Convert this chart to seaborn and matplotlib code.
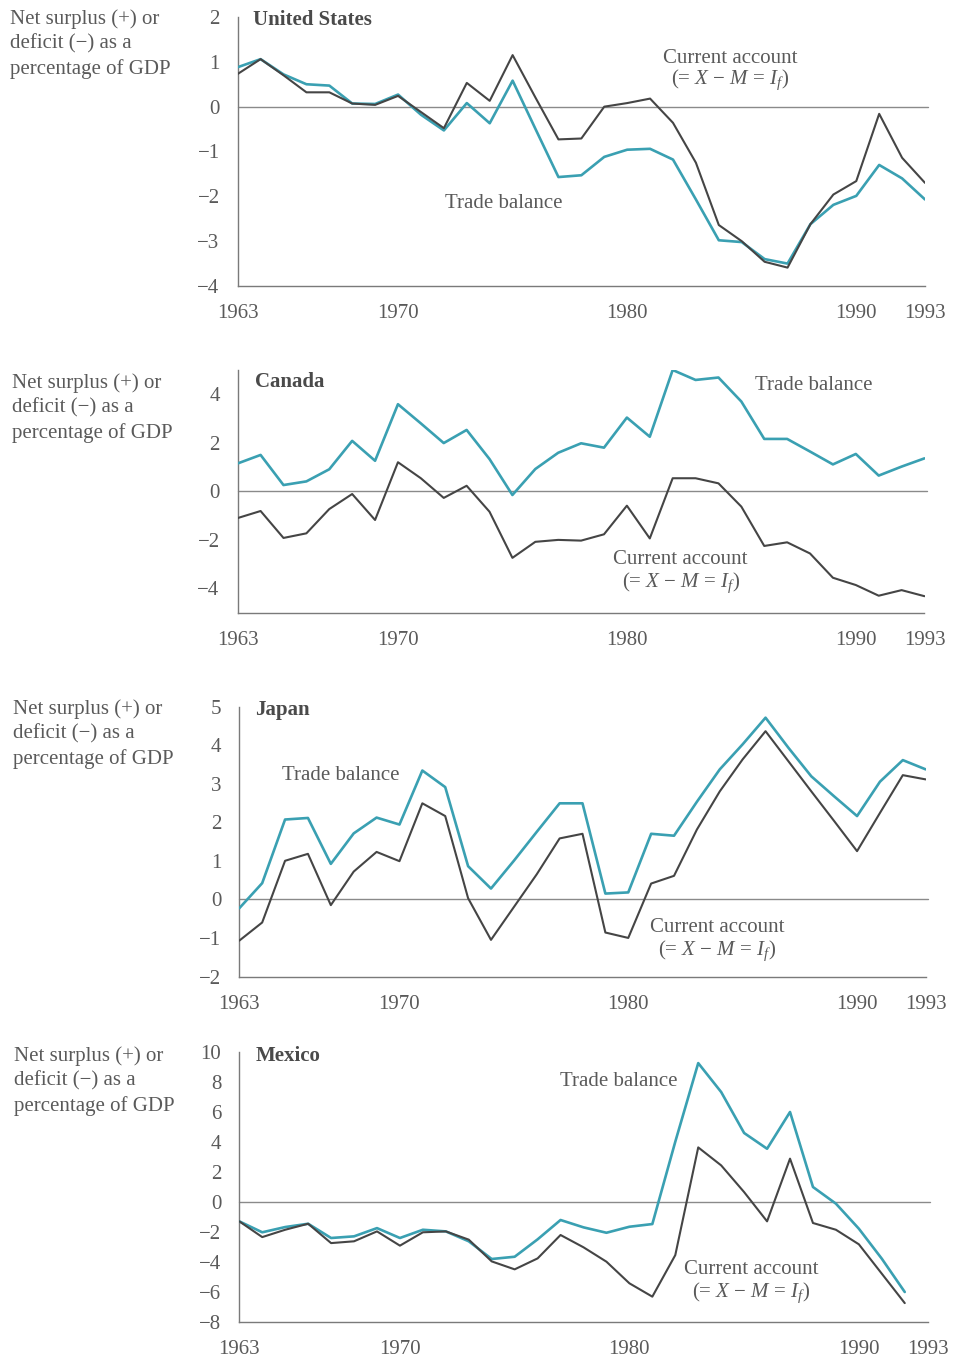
import numpy as np
import pandas as pd
import matplotlib
matplotlib.use("Agg")
import matplotlib.pyplot as plt
import seaborn as sns

# ---------------- data ----------------
years = list(range(1963, 1994))

us_current = [0.73, 1.06, 0.70, 0.32, 0.32, 0.07, 0.04, 0.24, -0.12, -0.48,
              0.53, 0.13, 1.15, 0.20, -0.73, -0.71, 0.00, 0.08, 0.18, -0.36,
              -1.25, -2.64, -3.00, -3.46, -3.59, -2.62, -1.96, -1.66, -0.16, -1.14, -1.70]
us_trade = [0.88, 1.06, 0.72, 0.50, 0.47, 0.07, 0.06, 0.27, -0.18, -0.53,
            0.08, -0.37, 0.58, -0.50, -1.57, -1.53, -1.12, -0.96, -0.94, -1.18,
            -2.07, -2.98, -3.02, -3.40, -3.50, -2.62, -2.19, -1.99, -1.30, -1.60, -2.07]

ca_current = [-1.10, -0.81, -1.92, -1.73, -0.73, -0.11, -1.18, 1.20, 0.54, -0.27,
              0.23, -0.84, -2.74, -2.08, -2.00, -2.03, -1.77, -0.59, -1.94, 0.54,
              0.54, 0.33, -0.63, -2.25, -2.10, -2.56, -3.56, -3.86, -4.30, -4.07, -4.32]
ca_trade = [1.15, 1.50, 0.26, 0.41, 0.91, 2.08, 1.26, 3.59, 2.80, 1.99,
            2.53, 1.33, -0.15, 0.92, 1.59, 1.98, 1.80, 3.04, 2.25, 5.00,
            4.59, 4.69, 3.70, 2.16, 2.16, 1.64, 1.11, 1.54, 0.65, 1.02, 1.36]

jp_current = [-1.07, -0.60, 1.00, 1.18, -0.15, 0.72, 1.23, 0.99, 2.49, 2.16,
              0.03, -1.05, -0.20, 0.65, 1.58, 1.70, -0.86, -1.00, 0.41, 0.61,
              1.81, 2.80, 3.63, 4.36, 3.58, 2.80, 2.03, 1.25, 2.24, 3.22, 3.11]
jp_trade = [-0.23, 0.42, 2.07, 2.11, 0.92, 1.71, 2.12, 1.94, 3.34, 2.91,
            0.86, 0.28, 1.00, 1.75, 2.49, 2.49, 0.15, 0.18, 1.70, 1.65,
            2.53, 3.37, 4.02, 4.71, 3.93, 3.19, 2.67, 2.16, 3.05, 3.61, 3.37]

mx_current = [-1.31, -2.36, -1.87, -1.47, -2.76, -2.64, -1.98, -2.93, -2.04, -1.98,
              -2.53, -3.98, -4.51, -3.78, -2.22, -3.04, -4.00, -5.44, -6.33, -3.56,
              3.62, 2.42, 0.64, -1.31, 2.87, -1.42, -1.87, -2.84, -4.80, -6.76, np.nan]
mx_trade = [-1.31, -2.04, -1.69, -1.47, -2.42, -2.31, -1.76, -2.42, -1.87, -1.98,
            -2.64, -3.82, -3.67, -2.51, -1.22, -1.71, -2.07, -1.67, -1.49, 4.00,
            9.24, 7.31, 4.58, 3.53, 5.98, 0.98, -0.13, -1.80, -3.80, -6.02, np.nan]

countries = ["United States", "Canada", "Japan", "Mexico"]
current_series = [us_current, ca_current, jp_current, mx_current]
trade_series = [us_trade, ca_trade, jp_trade, mx_trade]

xtick_vals = [1963, 1965, 1970, 1980, 1990, 1993]
xtick_labels = ["1963", "", "1970", "1980", "1990", "1993"]
ylabel_text = "Net surplus (+) or\ndeficit (\u2212) as a\npercentage of GDP"
ca_text = "Current account"
formula_text = "(= $X$ \u2212 $M$ = $I_f$)"
tb_text = "Trade balance"

# ---------------- style ----------------
sns.set_style("white")
plt.rcParams["font.family"] = ["Liberation Serif", "DejaVu Serif"]
plt.rcParams["mathtext.fontset"] = "custom"
plt.rcParams["mathtext.rm"] = "Liberation Serif"
plt.rcParams["mathtext.it"] = "Liberation Serif:italic"

TEAL = "#3aa0b2"
DARK = "#454545"
AXC = "#7a7a7a"
TXT = "#5a5a5a"
FS = 15

fig = plt.figure(figsize=(9.57, 13.58), dpi=100)
W, H = 957.0, 1358.0

# panel geometry in pixels: (left, right, top, bottom)
geoms = [(237.7, 925.0, 17.0, 286.0),
         (237.7, 924.5, 370.0, 612.7),
         (239.3, 925.7, 706.5, 976.5),
         (239.3, 927.7, 1051.7, 1321.7)]
ylims = [(-4, 2), (-5, 5), (-2, 5), (-8, 10)]
yticks = [list(range(-4, 3)), list(range(-5, 6)), list(range(-2, 6)), list(range(-8, 11, 2))]
ylabels_show = [None, [-4, -2, 0, 2, 4], None, None]

titles_pos = [(1963.67, 1.94), (1963.75, 4.49), (1963.69, 4.90), (1963.73, 9.73)]
ca_pos = [(1984.5, 1.08, 0.59), (1982.35, -2.79, -3.78), (1983.9, -0.74, -1.34), (1985.3, -4.55, -6.09)]
tb_pos = [(1974.6, -2.17), (1988.15, 4.38), (1967.45, 3.22), (1979.55, 7.98)]
side_pos = [(10, 9), (12, 373), (13, 699), (14, 1046)]

for i in range(4):
    l, r, t, b = geoms[i]
    ax = fig.add_axes([l / W, 1 - b / H, (r - l) / W, (b - t) / H])
    df = pd.DataFrame({"year": years, "current": current_series[i], "trade": trade_series[i]})
    ax.axhline(0, color="#8a8a8a", lw=1.0, zorder=1, xmax=1.004, clip_on=False)
    sns.lineplot(data=df, x="year", y="trade", ax=ax, color=TEAL, lw=1.9, zorder=3)
    sns.lineplot(data=df, x="year", y="current", ax=ax, color=DARK, lw=1.5, zorder=4)
    ax.set_xlim(1963, 1993)
    ax.set_ylim(*ylims[i])
    ax.set_xlabel("")
    ax.set_ylabel("")
    ax.set_xticks(xtick_vals)
    ax.set_xticklabels(xtick_labels)
    ax.set_yticks(yticks[i])
    if ylabels_show[i] is not None:
        ax.set_yticklabels([str(v).replace("-", "\u2212") if v in ylabels_show[i] else "" for v in yticks[i]])
    else:
        ax.set_yticklabels([str(v).replace("-", "\u2212") for v in yticks[i]])
    for s in ["top", "right"]:
        ax.spines[s].set_visible(False)
    for s in ["left", "bottom"]:
        ax.spines[s].set_color(AXC)
        ax.spines[s].set_linewidth(1.0)
    ax.tick_params(axis="both", direction="out", width=1.0, color=AXC,
                   labelsize=FS, labelcolor=TXT)
    ax.tick_params(axis="y", length=4, pad=9)
    ax.tick_params(axis="x", length=6, pad=7)
    ax.set_facecolor("none")

    tx, ty = titles_pos[i]
    ax.text(tx, ty, countries[i], fontsize=FS, fontweight="bold", color="#4a4a4a",
            ha="left", va="center")
    cx, cy1, cy2 = ca_pos[i]
    ax.text(cx, cy1, ca_text, fontsize=FS, color=TXT, ha="center", va="center")
    ax.text(cx, cy2, formula_text, fontsize=FS, color=TXT, ha="center", va="center")
    bx, by = tb_pos[i]
    ax.text(bx, by, tb_text, fontsize=FS, color=TXT, ha="center", va="center")

    sx, sy = side_pos[i]
    fig.text(sx / W, 1 - sy / H, ylabel_text, fontsize=FS, color=TXT,
             ha="left", va="top", linespacing=1.38)

fig.savefig("out.png", dpi=100, facecolor="white")
